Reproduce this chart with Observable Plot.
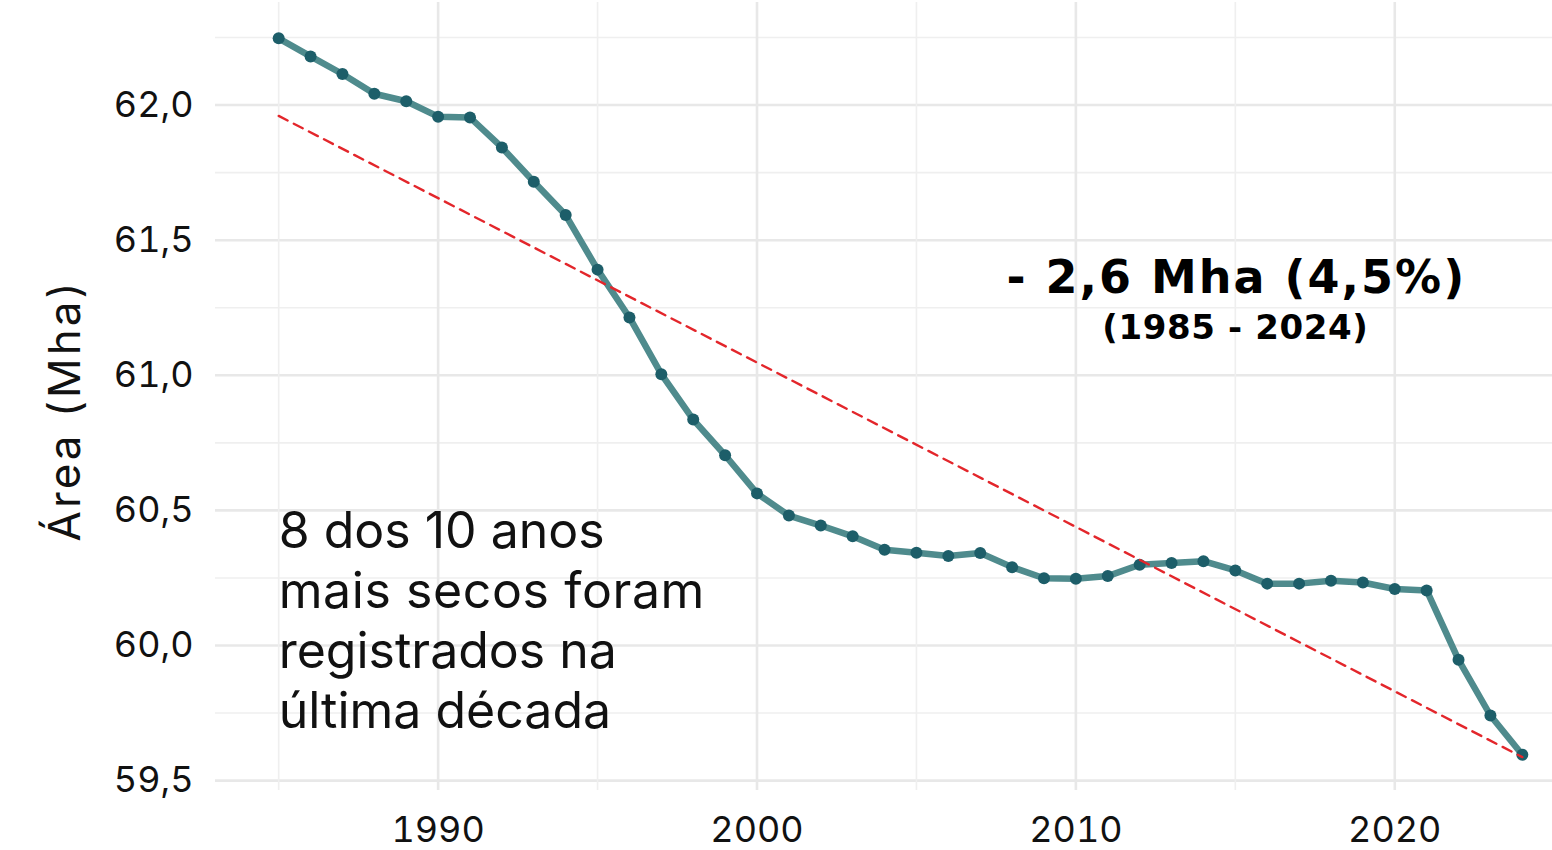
<!DOCTYPE html>
<html>
<head>
<meta charset="utf-8">
<script src="https://cdn.jsdelivr.net/npm/d3@7"></script>
<script src="https://cdn.jsdelivr.net/npm/@observablehq/plot@0.6"></script>
<style>
  html, body { margin: 0; padding: 0; background: #ffffff; overflow: hidden; }
  #chart svg { overflow: hidden; display: block; }
</style>
</head>
<body>
<div id="chart"></div>
<script>
// ---- data ----
const years = [1985, 1986, 1987, 1988, 1989, 1990, 1991, 1992, 1993, 1994,
               1995, 1996, 1997, 1998, 1999, 2000, 2001, 2002, 2003, 2004,
               2005, 2006, 2007, 2008, 2009, 2010, 2011, 2012, 2013, 2014,
               2015, 2016, 2017, 2018, 2019, 2020, 2021, 2022, 2023, 2024];
const area = [62.247, 62.180, 62.115, 62.042, 62.014, 61.957, 61.954, 61.843, 61.716, 61.593,
              61.391, 61.214, 61.004, 60.836, 60.704, 60.563, 60.481, 60.444, 60.404, 60.354,
              60.343, 60.331, 60.342, 60.290, 60.249, 60.247, 60.257, 60.299, 60.305, 60.312,
              60.278, 60.229, 60.229, 60.240, 60.233, 60.209, 60.204, 59.947, 59.741, 59.596];
const yTicks = [59.5, 60.0, 60.5, 61.0, 61.5, 62.0];
const yMinor = [59.75, 60.25, 60.75, 61.25, 61.75, 62.25];
const xTicks = [1990, 2000, 2010, 2020];
const xMinor = [1985, 1995, 2005, 2015, 2025];
const yTitle = "Área (Mha)";
const headline = "- 2,6 Mha (4,5%)";
const period = "(1985 - 2024)";
const note = "8 dos 10 anos\nmais secos foram\nregistrados na\núltima década";

const data = years.map((y, i) => ({year: y, area: area[i]}));

// ggplot-like 5% expansion
const [x0, x1] = d3.extent(years);
const [y0, y1] = d3.extent(area);
const ex = (x1 - x0) * 0.05, ey = (y1 - y0) * 0.05;

const comma = d => d.toFixed(1).replace(".", ",");
const boldFont = "'DejaVu Sans', Inter, sans-serif";

const chart = Plot.plot({
  width: 1552,
  height: 850,
  marginLeft: 215,
  marginRight: 0,
  marginTop: 2,
  marginBottom: 60,
  style: {fontFamily: "Inter, 'Noto Sans', sans-serif", background: "#ffffff", color: "#000000"},
  x: {domain: [x0 - ex, x1 + ex], range: [216, 1584]},
  y: {domain: [y0 - ey, y1 + ey], range: [790, 2]},
  marks: [
    Plot.ruleY(yMinor, {stroke: "#efefef", strokeWidth: 1.6}),
    Plot.ruleY(yTicks, {stroke: "#e8e8e8", strokeWidth: 2.6}),
    Plot.ruleX(xMinor, {stroke: "#efefef", strokeWidth: 1.6}),
    Plot.ruleX(xTicks, {stroke: "#e8e8e8", strokeWidth: 2.6}),
    Plot.axisY(yTicks, {tickSize: 0, tickPadding: 22, fontSize: 36, tickFormat: comma, label: null, fill: "#111111"}),
    Plot.axisX(xTicks, {tickSize: 0, tickPadding: 26, fontSize: 36, tickFormat: d => String(d), label: null, fill: "#111111"}),
    Plot.text([yTitle], {frameAnchor: "left", textAnchor: "middle", rotate: -90, dx: -150, dy: 14, fontSize: 44, fill: "#111111"}),
    Plot.line(data, {x: "year", y: "area", stroke: "#4f8b8d", strokeWidth: 6.5, strokeLinejoin: "round"}),
    Plot.dot(data, {x: "year", y: "area", r: 6, fill: "#1d5e69", stroke: "none"}),
    Plot.linearRegressionY(data, {x: "year", y: "area", ci: 0, stroke: "#e3262b", strokeWidth: 2.4, strokeDasharray: "10,7"}),
    Plot.text([headline], {x: 2015.03, y: 61.303, textAnchor: "middle", lineAnchor: "bottom", fontSize: 46, fontWeight: "bold", fontFamily: boldFont, fill: "#000000"}),
    Plot.text([period], {x: 2015.0, y: 61.136, textAnchor: "middle", lineAnchor: "bottom", fontSize: 34, fontWeight: "bold", fontFamily: boldFont, fill: "#000000"}),
    Plot.text([note], {x: 1985, y: 59.696, textAnchor: "start", lineAnchor: "bottom", lineHeight: 1.2, fontSize: 50, fill: "#111111"})
  ]
});

// letter spacing to emulate the wide geometric typeface of the original
const spacing = new Map([[yTitle, "3px"], [headline, "2px"], [period, "0.6px"], ["mais secos foram", "0.6px"]]);
d3.select(chart).selectAll("text, tspan").each(function () {
  const s = spacing.get(this.textContent);
  if (s && (this.tagName === "tspan" || this.childElementCount === 0)) this.style.letterSpacing = s;
});
document.getElementById("chart").appendChild(chart);
</script>
</body>
</html>
